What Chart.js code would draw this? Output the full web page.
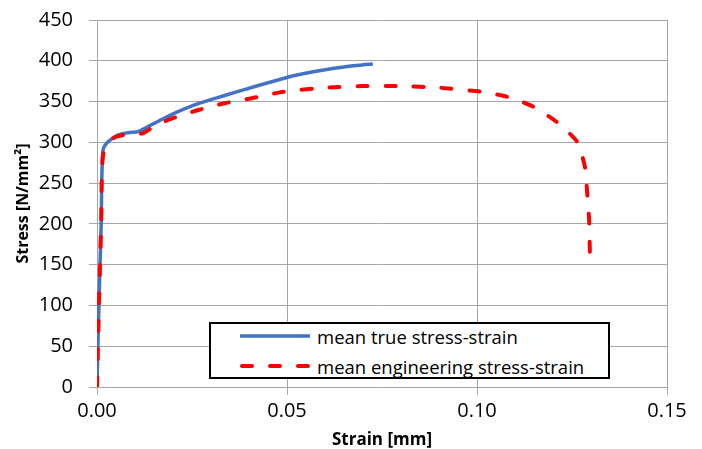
<!DOCTYPE html>
<html>
<head>
<meta charset="utf-8">
<script src="https://cdn.jsdelivr.net/npm/chart.js@4/dist/chart.umd.min.js"></script>
<style>
  body { margin: 0; background: #fff; }
  #wrap { position: relative; width: 702px; height: 449px; }
  #legend {
    position: absolute; left: 209px; top: 322px; width: 397px; height: 53px;
    border: 2px solid #000; background: #fff;
    font-family: "Open Sans", sans-serif; font-size: 18.5px; color: #000;
  }
  #legend .row { position: absolute; left: 29px; height: 24px; display: flex; align-items: center; white-space: nowrap; }
  #legend svg { margin-right: 7px; }
</style>
</head>
<body>
<div id="wrap">
  <canvas id="chart" width="702" height="449"></canvas>
  <div id="legend"></div>
</div>
<script>
// mean true stress-strain
var trueStrain = [0, 0.0005, 0.0011, 0.0016, 0.003, 0.0055, 0.0085, 0.0107, 0.0125, 0.017, 0.021, 0.027, 0.034, 0.039, 0.045, 0.052, 0.06, 0.065, 0.07, 0.0726];
var trueStress = [0, 100, 200, 291, 301, 309, 312, 313, 317, 328, 337, 348, 358, 365, 373, 382, 389, 392.5, 395, 396];

// mean engineering stress-strain
var engStrain = [0, 0.0005, 0.0011, 0.0016, 0.0043, 0.0069, 0.012, 0.0142, 0.019, 0.0262, 0.0336, 0.0407, 0.049, 0.06, 0.07, 0.08, 0.09, 0.101, 0.1079, 0.1147, 0.121, 0.1263, 0.1284, 0.129, 0.1295, 0.1297];
var engStress = [0, 100, 200, 285, 305, 309, 311, 317, 328, 339, 348, 354, 362, 367, 369, 369, 367, 362, 356, 344, 325, 301, 270, 238, 205, 165];

var xTicks = [0, 0.05, 0.1, 0.15];

var seriesNames = ['mean true stress-strain', 'mean engineering stress-strain'];
var seriesColors = ['#4472C4', '#FF0000'];

function toPoints(xs, ys) {
  var pts = [];
  for (var i = 0; i < xs.length; i++) {
    pts.push({x: xs[i], y: ys[i]});
  }
  return pts;
}

var ctx = document.getElementById('chart').getContext('2d');
var chart = new Chart(ctx, {
  type: 'scatter',
  data: {
    datasets: [{
      label: seriesNames[0],
      data: toPoints(trueStrain, trueStress),
      showLine: true,
      borderColor: seriesColors[0],
      borderWidth: 3.5,
      pointRadius: 0,
      tension: 0.3,
      order: 1,
    }, {
      label: seriesNames[1],
      data: toPoints(engStrain, engStress),
      showLine: true,
      borderColor: seriesColors[1],
      borderWidth: 4,
      borderDash: [10, 18],
      borderCapStyle: 'round',
      pointRadius: 0,
      tension: 0.2,
      order: 0,
    }]
  },
  options: {
    responsive: false,
    animation: false,
    layout: { padding: { top: 20, right: 35, left: 0, bottom: 0 } },
    plugins: { legend: { display: false }, tooltip: { enabled: false } },
    scales: {
      x: {
        type: 'linear',
        min: 0, max: 0.15,
        afterBuildTicks: function(axis) {
          axis.ticks = xTicks.map(function(v) { return {value: v}; });
        },
        afterFit: function(axis) {
          axis.height = 62;
          axis.paddingLeft = 0;
          axis.paddingRight = 0;
        },
        grid: { color: '#a6a6a6', tickLength: 8 },
        border: { color: '#a6a6a6' },
        ticks: {
          color: '#000', padding: 4, maxRotation: 0,
          font: { family: 'Open Sans', size: 20 },
          callback: function(v) { return v.toFixed(2); }
        },
        title: {
          display: true, text: 'Strain [mm]', color: '#000', padding: {top: 0, bottom: 0},
          font: { family: 'Open Sans', size: 17, weight: 'bold', lineHeight: 1 }
        }
      },
      y: {
        min: 0, max: 450,
        afterFit: function(axis) {
          axis.width = 97;
          axis.paddingTop = 0;
          axis.paddingBottom = 0;
        },
        grid: { color: '#a6a6a6', tickLength: 8 },
        border: { color: '#a6a6a6' },
        ticks: {
          stepSize: 50, color: '#000', padding: 16,
          font: { family: 'Open Sans', size: 20 }
        },
        title: {
          display: true, text: 'Stress [N/mm²]', color: '#000', padding: {top: 15, bottom: 0},
          font: { family: 'Open Sans', size: 16, weight: 'bold', lineHeight: 1 }
        }
      }
    }
  }
});

// legend box inside the plot, like the original
var legend = document.getElementById('legend');
chart.data.datasets.forEach(function(ds, i) {
  var row = document.createElement('div');
  row.className = 'row';
  row.style.top = (i === 0 ? 0 : 30) + 'px';
  var dash = ds.borderDash ? ds.borderDash.join(',') : 'none';
  var cap = ds.borderCapStyle || 'butt';
  row.innerHTML = '<svg width="70" height="8"><line x1="' + (ds.borderDash ? 2 : 0) + '" y1="4" x2="70" y2="4" stroke="' + ds.borderColor +
    '" stroke-width="' + ds.borderWidth + '" stroke-linecap="' + cap + '" stroke-dasharray="' + dash + '"/></svg><span>' + ds.label + '</span>';
  legend.appendChild(row);
});
</script>
</body>
</html>
